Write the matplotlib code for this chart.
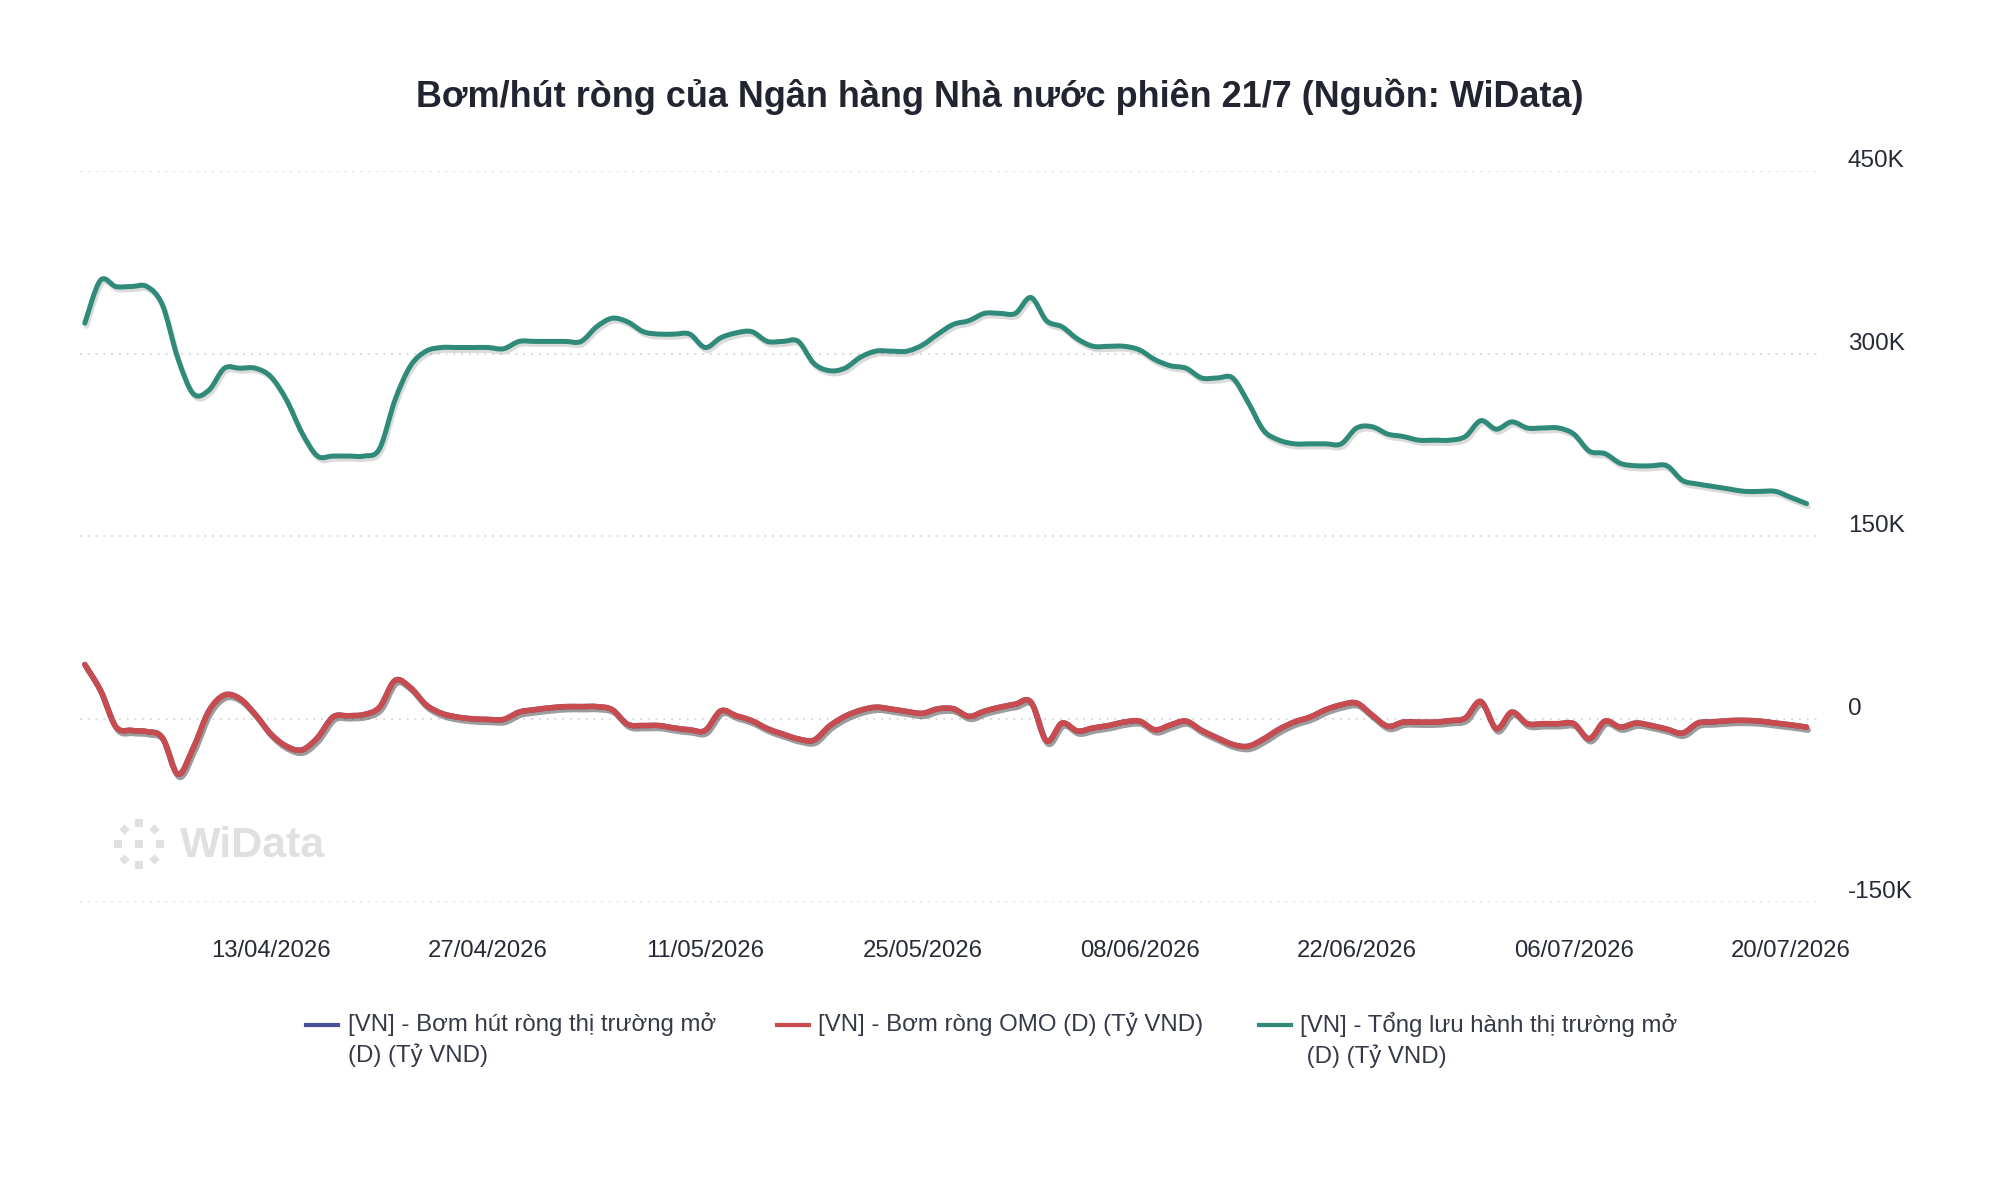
import matplotlib
matplotlib.use("Agg")
import matplotlib.pyplot as plt
import matplotlib.dates as mdates
import matplotlib.patheffects as pe
from matplotlib.lines import Line2D
from matplotlib.path import Path
from matplotlib.patches import PathPatch
from matplotlib.ticker import FuncFormatter
from matplotlib.transforms import ScaledTranslation
import numpy as np
import pandas as pd

plt.rcParams['font.family'] = ['Liberation Sans', 'DejaVu Sans']

# daily data, 01/04/2026 -> 21/07/2026, values in thousand tỷ VND
dates = pd.date_range('2026-04-01', '2026-07-21', freq='D')

tong_luu_hanh = [
    325, 360, 355, 355, 355, 340, 296, 267, 270, 288,
    288, 288, 281, 262, 235, 216, 216, 216, 216, 222,
    262, 290, 302, 305, 305, 305, 305, 304, 310, 310,
    310, 310, 310, 322, 329, 326, 318, 316, 316, 316,
    305, 313, 317, 318, 310, 310, 310, 292, 286, 288,
    297, 302, 302, 302, 307, 316, 324, 327, 333, 333,
    333, 346, 327, 322, 312, 306, 306, 306, 303, 295,
    290, 288, 280, 280, 280, 260, 237, 229, 226, 226,
    226, 226, 239, 240, 234, 232, 229, 229, 229, 232,
    245, 238, 244, 239, 239, 239, 234, 220, 218, 210,
    208, 208, 208, 196, 193, 191, 189, 187, 187, 187,
    182, 177,
]

bom_rong_omo = [
    45, 24, -6, -9, -10, -15, -45, -23, 7, 20,
    17, 4, -12, -22, -25, -15, 2, 3, 4, 10,
    32, 26, 12, 5, 2, 0.5, 0, 0, 6, 8,
    9.5, 10.5, 10.5, 10.5, 8, -4, -5, -5, -7, -8.5,
    -9, 7, 3, -1, -7.5, -12, -16, -17, -5.5, 2.5,
    7.5, 10, 8.5, 6.5, 5, 8.7, 8.7, 2.5, 6.8, 10,
    12.5, 14.2, -17.7, -3, -9.5, -7, -5, -2.2, -1.4, -8.5,
    -4.5, -1.4, -9, -15, -20.5, -22, -16, -8, -2, 2,
    8, 12, 13.4, 3.5, -5.6, -2.2, -2.2, -2.2, -1, 1.1,
    14.7, -7.6, 6, -3.5, -3.5, -3.5, -3.5, -15.8, -1.4, -6.3,
    -3, -5, -8, -11.2, -3, -2, -1, -0.8, -1.4, -3,
    -4.5, -6.3,
]

# same values as OMO, hidden under the red line in the chart
bom_hut_thi_truong_mo = list(bom_rong_omo)

labels = [
    "[VN] - Bơm hút ròng thị trường mở\n(D) (Tỷ VND)",
    "[VN] - Bơm ròng OMO (D) (Tỷ VND)",
    "[VN] - Tổng lưu hành thị trường mở\n (D) (Tỷ VND)",
]
colors = ['#4a4f9c', '#c84b4f', '#2f8a79']
y_ticks = [-150, 0, 150, 300, 450]
x_ticks = pd.date_range('2026-04-13', '2026-07-20', freq='14D')

W, H = 2000, 1204
fig = plt.figure(figsize=(W / 100, H / 100), dpi=100)
fig.patch.set_facecolor('white')


def fx(px):
    return px / W


def fy(py):
    return 1 - py / H


def spline_path(xs, ys):
    # smooth curve through the points (cubic bezier, catmull-rom style tangents)
    x = np.asarray(xs, float)
    y = np.asarray(ys, float)
    n = len(x)
    verts = [(x[0], y[0])]
    codes = [Path.MOVETO]
    for i in range(n - 1):
        i0, i2, i3 = max(i - 1, 0), i + 1, min(i + 2, n - 1)
        c1 = (x[i] + (x[i2] - x[i0]) / 6, y[i] + (y[i2] - y[i0]) / 6)
        c2 = (x[i2] - (x[i3] - x[i]) / 6, y[i2] - (y[i3] - y[i]) / 6)
        verts += [c1, c2, (x[i2], y[i2])]
        codes += [Path.CURVE4] * 3
    return Path(verts, codes)


ax = fig.add_axes([fx(80), fy(902.3), fx(1818) - fx(80), fy(170.7) - fy(902.3)])
ax.set_facecolor('none')

# watermark
wm_col = '#e0e0e0'
fig.text(fx(180), fy(846), 'WiData', fontsize=31, fontweight='bold', color=wm_col,
         ha='left', va='center', zorder=0)
icon = fig.add_axes([fx(112), fy(871), fx(54), fx(54) * W / H])
icon.set_xlim(-1.3, 1.3)
icon.set_ylim(-1.3, 1.3)
icon.axis('off')
sq = [(0, 1), (1, 0), (0, -1), (-1, 0), (0, 0)]
dm = [(0.72, 0.72), (0.72, -0.72), (-0.72, 0.72), (-0.72, -0.72)]
icon.scatter([p[0] for p in sq], [p[1] for p in sq], marker='s', s=32, color=wm_col, lw=0)
icon.scatter([p[0] for p in dm], [p[1] for p in dm], marker='D', s=28, color=wm_col, lw=0)

shadow_dark = [pe.SimpleLineShadow(offset=(1.2, -2.2), shadow_color='#3a3a3a', alpha=0.5),
               pe.Normal()]
shadow_light = [pe.SimpleLineShadow(offset=(1.2, -2.2), shadow_color='#888888', alpha=0.3),
                pe.Normal()]

xnum = mdates.date2num(dates)
series = [(bom_hut_thi_truong_mo, 3.8, None, 3),
          (bom_rong_omo, 4.0, shadow_dark, 4),
          (tong_luu_hanh, 3.6, shadow_light, 4)]
for (vals, lw, eff, z), c in zip(series, colors):
    patch = PathPatch(spline_path(xnum, vals), facecolor='none', edgecolor=c, lw=lw,
                      joinstyle='round', capstyle='round', zorder=z)
    if eff:
        patch.set_path_effects(eff)
    ax.add_patch(patch)

ax.set_ylim(-150, 450)
ax.set_xlim(xnum[0] - 0.31, xnum[0] + 111.74)
ax.xaxis_date()
ax.set_yticks(y_ticks)
ax.yaxis.set_major_formatter(FuncFormatter(lambda v, p: '0' if v == 0 else f'{v:g}K'))
ax.set_xticks(mdates.date2num(x_ticks))
ax.xaxis.set_major_formatter(mdates.DateFormatter('%d/%m/%Y'))

ax.grid(axis='y', color='#dcdcdc', linestyle=(0, (1, 3)), linewidth=1.4)
ax.grid(axis='x', visible=False)
for s in ax.spines.values():
    s.set_visible(False)

ax.yaxis.tick_right()
ax.tick_params(axis='y', length=0, pad=21.5, labelsize=17.5, labelcolor='#262a36')
ax.tick_params(axis='x', length=0, pad=26.8, labelsize=17.2, labelcolor='#262a36')
for lab in ax.get_yticklabels():
    lab.set_verticalalignment('center')
    lab.set_transform(lab.get_transform() + ScaledTranslation(0, 0.10, fig.dpi_scale_trans))

fig.text(0.5, fy(96.5), 'Bơm/hút ròng của Ngân hàng Nhà nước phiên 21/7 (Nguồn: WiData)',
         ha='center', va='center', fontsize=25.9, fontweight='bold', color='#222531')

# legend
leg_items = [(306, 348), (777, 818), (1259, 1300)]
for (hx, tx), lab, c in zip(leg_items, labels, colors):
    fig.add_artist(Line2D([fx(hx), fx(hx + 32)], [fy(1025), fy(1025)], color=c, lw=3,
                          transform=fig.transFigure))
    fig.text(fx(tx), fy(1012), lab, ha='left', va='top', fontsize=17.3, color='#363a48',
             linespacing=1.4)

fig.savefig('out.png', dpi=100, facecolor='white')
